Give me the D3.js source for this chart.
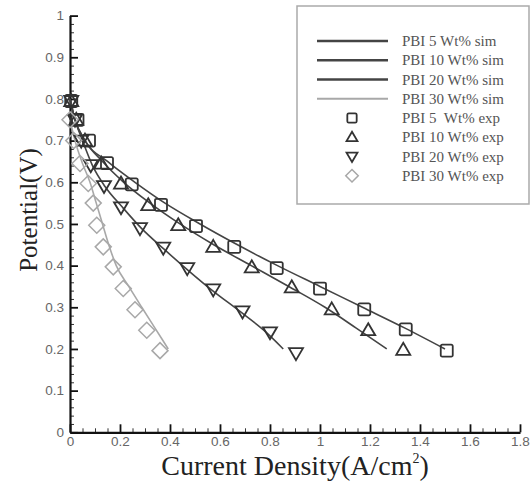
<!DOCTYPE html>
<html><head><meta charset="utf-8">
<script src="https://cdn.jsdelivr.net/npm/d3@7"></script>
<style>body{margin:0;background:#fff}svg{display:block}</style>
</head><body>
<svg id="chart" width="532" height="484"></svg>
<script>
// ---- data ----
const xTicks = [0,0.2,0.4,0.6,0.8,1,1.2,1.4,1.6,1.8];
const yTicks = [0,0.1,0.2,0.3,0.4,0.5,0.6,0.7,0.8,0.9,1];
const legendLabels = ["PBI 5 Wt% sim","PBI 10 Wt% sim","PBI 20 Wt% sim","PBI 30 Wt% sim",
  "PBI 5  Wt% exp","PBI 10 Wt% exp","PBI 20 Wt% exp","PBI 30 Wt% exp"];

const sim5  = [[0,0.8],[0.02,0.75],[0.06,0.70],[0.15,0.65],[0.26,0.60],[0.38,0.55],[0.52,0.50],[0.67,0.45],[0.83,0.40],[1.0,0.35],[1.17,0.30],[1.34,0.25],[1.5,0.2]];
const sim10 = [[0,0.8],[0.02,0.75],[0.06,0.70],[0.13,0.65],[0.215,0.60],[0.32,0.55],[0.44,0.50],[0.575,0.45],[0.725,0.40],[0.875,0.35],[1.02,0.30],[1.145,0.25],[1.267,0.2]];
const sim20 = [[0,0.8],[0.02,0.75],[0.05,0.70],[0.09,0.64],[0.14,0.59],[0.21,0.54],[0.285,0.49],[0.375,0.44],[0.47,0.39],[0.57,0.34],[0.68,0.29],[0.775,0.245],[0.853,0.2]];
const sim30 = [[0,0.75],[0.02,0.70],[0.05,0.645],[0.08,0.60],[0.105,0.55],[0.13,0.50],[0.155,0.45],[0.185,0.40],[0.235,0.35],[0.287,0.30],[0.34,0.25],[0.393,0.2]];

const exp5  = [[0.005,0.795],[0.03,0.75],[0.076,0.70],[0.148,0.646],[0.247,0.595],[0.364,0.546],[0.504,0.495],[0.657,0.445],[0.827,0.394],[1.0,0.345],[1.177,0.295],[1.343,0.247],[1.507,0.196]];
const exp10 = [[0.005,0.795],[0.025,0.75],[0.06,0.70],[0.125,0.645],[0.204,0.597],[0.313,0.545],[0.433,0.497],[0.573,0.445],[0.727,0.396],[0.887,0.348],[1.047,0.295],[1.193,0.245],[1.333,0.198]];
const exp20 = [[0.005,0.795],[0.02,0.75],[0.045,0.70],[0.083,0.641],[0.136,0.591],[0.204,0.54],[0.28,0.49],[0.373,0.443],[0.469,0.394],[0.573,0.343],[0.69,0.29],[0.8,0.24],[0.904,0.19]];
const exp30 = [[0.0,0.75],[0.015,0.70],[0.04,0.645],[0.073,0.597],[0.093,0.55],[0.107,0.497],[0.133,0.445],[0.173,0.397],[0.213,0.345],[0.26,0.294],[0.307,0.245],[0.36,0.196]];

// ---- drawing ----
const svg = d3.select("#chart");
const x = d3.scaleLinear().domain([0,1.8]).range([70,520]);
const y = d3.scaleLinear().domain([0,1]).range([432.3,15.6]);

const dark = "#333", mid = "#444", light = "#a8a8a8";

const xMinor = d3.range(0,1.8001,0.05).filter(v => Math.abs(v/0.2 - Math.round(v/0.2))>1e-6);
const yMinor = d3.range(0,1.0001,0.02).filter(v => Math.abs(v/0.1 - Math.round(v/0.1))>1e-6);
const fmt = v => String(+v.toFixed(2));

const gx = svg.append("g").attr("transform",`translate(0,${y(0)})`);
gx.call(d3.axisBottom(x).tickValues(xMinor).tickSize(-4).tickFormat("").tickSizeOuter(0));
gx.selectAll(".tick line").attr("stroke",dark).attr("stroke-width",1);
gx.select(".domain").remove();
const gx2 = svg.append("g").attr("transform",`translate(0,${y(0)})`)
  .call(d3.axisBottom(x).tickValues(xTicks).tickSize(-8).tickPadding(4).tickFormat(fmt).tickSizeOuter(0));
gx2.select(".domain").attr("stroke","#111").attr("stroke-width",2.2);
gx2.selectAll(".tick line").attr("stroke","#111").attr("stroke-width",1.8);
gx2.selectAll(".tick text").attr("font-family","Liberation Sans, Arial, sans-serif").attr("font-size",13.5).attr("fill","#666");

const gy = svg.append("g").attr("transform",`translate(${x(0)},0)`);
gy.call(d3.axisLeft(y).tickValues(yMinor).tickSize(-4).tickFormat("").tickSizeOuter(0));
gy.selectAll(".tick line").attr("stroke",dark).attr("stroke-width",1);
gy.select(".domain").remove();
const gy2 = svg.append("g").attr("transform",`translate(${x(0)},0)`)
  .call(d3.axisLeft(y).tickValues(yTicks).tickSize(-8).tickPadding(6).tickFormat(fmt).tickSizeOuter(0));
gy2.select(".domain").attr("stroke","#111").attr("stroke-width",2.2);
gy2.selectAll(".tick line").attr("stroke","#111").attr("stroke-width",1.8);
gy2.selectAll(".tick text").attr("font-family","Liberation Sans, Arial, sans-serif").attr("font-size",13.5).attr("fill","#666");

// axis titles
const xt = svg.append("text").attr("x",295).attr("y",475).attr("text-anchor","middle")
  .attr("font-family","Liberation Serif, Times New Roman, serif").attr("font-size",28).attr("fill","#222");
xt.append("tspan").text("Current Density(A/cm");
xt.append("tspan").attr("font-size",14).attr("dy",-12).text("2");
xt.append("tspan").attr("dy",12).text(")");
svg.append("text").attr("transform","translate(37,210) rotate(-90)").attr("text-anchor","middle")
  .attr("font-family","Liberation Serif, Times New Roman, serif").attr("font-size",25).attr("fill","#222")
  .text("Potential(V)");

// sim lines
const line = d3.line().x(d=>x(d[0])).y(d=>y(d[1])).curve(d3.curveMonotoneX);
const sims = [[sim5,mid],[sim10,mid],[sim20,mid],[sim30,light]];
sims.forEach(([d,c])=>{
  svg.append("path").datum(d).attr("d",line).attr("fill","none").attr("stroke",c).attr("stroke-width",1.6);
});

// markers
function marker(sel, type, color, s){
  s = s || 1;
  if(type==="square"){
    sel.append("rect").attr("x",-6*s).attr("y",-6*s).attr("width",12*s).attr("height",12*s).attr("rx",1.5)
      .attr("fill","none").attr("stroke",color).attr("stroke-width",1.8);
  } else if(type==="up"){
    sel.append("path").attr("d",`M0,${-7*s}L${7*s},${5*s}L${-7*s},${5*s}Z`).attr("fill","none").attr("stroke",color).attr("stroke-width",1.8);
  } else if(type==="down"){
    sel.append("path").attr("d",`M0,${7*s}L${7*s},${-5*s}L${-7*s},${-5*s}Z`).attr("fill","none").attr("stroke",color).attr("stroke-width",1.8);
  } else {
    sel.append("path").attr("d",`M0,${-8*s}L${8*s},0L0,${8*s}L${-8*s},0Z`).attr("fill","none").attr("stroke",color).attr("stroke-width",1.5);
  }
}
const exps = [[exp5,"square",dark],[exp10,"up",dark],[exp20,"down",dark],[exp30,"diamond",light]];
exps.forEach(([d,t,c])=>{
  svg.append("g").selectAll("g").data(d).join("g")
    .attr("transform",p=>`translate(${x(p[0])},${y(p[1])})`)
    .each(function(){ marker(d3.select(this),t,c); });
});

// legend
const lg = svg.append("g");
lg.append("rect").attr("x",297).attr("y",6).attr("width",232).attr("height",198)
  .attr("fill","#fff").attr("stroke","#aaa").attr("stroke-width",1.5);
const rowY = i => 41 + i*19.25;
const lineColors = [mid,mid,mid,light];
const mTypes = ["square","up","down","diamond"];
const mColors = [dark,dark,dark,light];
legendLabels.forEach((lab,i)=>{
  if(i<4){
    lg.append("line").attr("x1",317).attr("x2",388).attr("y1",rowY(i)).attr("y2",rowY(i))
      .attr("stroke",lineColors[i]).attr("stroke-width",i<3?2.6:2);
  } else {
    const g = lg.append("g").attr("transform",`translate(352,${rowY(i)})`);
    marker(g, mTypes[i-4], mColors[i-4], 0.78);
  }
  lg.append("text").attr("x",402).attr("y",rowY(i)+5).attr("xml:space","preserve").style("white-space","pre")
    .attr("font-family","Liberation Serif, Times New Roman, serif").attr("font-size",15).attr("fill","#555")
    .text(lab);
});
</script>
</body></html>
